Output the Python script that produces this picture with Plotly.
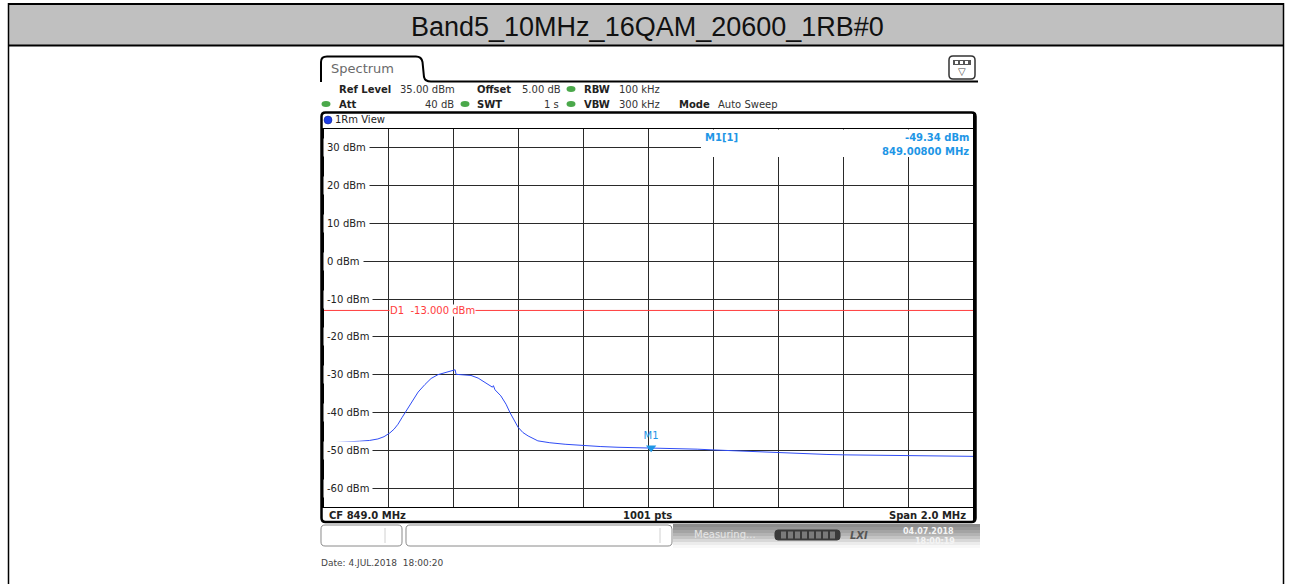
import plotly.graph_objects as go

# ---------------- data ----------------
TITLE = "Band5_10MHz_16QAM_20600_1RB#0"

FREQ_MHZ = [848.000, 848.030, 848.060, 848.083, 848.110, 848.140, 848.166, 848.185,
            848.203, 848.216, 848.228, 848.240, 848.253, 848.271, 848.290, 848.311,
            848.330, 848.351, 848.373, 848.394, 848.401, 848.404, 848.407, 848.425,
            848.453, 848.475, 848.496, 848.512, 848.519, 848.522, 848.527, 848.545,
            848.561, 848.573, 848.586, 848.598, 848.613, 848.629, 848.659, 848.696,
            848.743, 848.804, 848.851, 848.906, 848.974, 849.008, 849.050, 849.097,
            849.150, 849.199, 849.250, 849.297, 849.350, 849.399, 849.450, 849.498,
            849.550, 849.599, 849.650, 849.698, 849.750, 849.800, 849.850, 849.898,
            849.950, 850.000]
LEVEL_DBM = [-48.1, -48.0, -47.9, -47.8, -47.6, -47.4, -47.0, -46.4,
             -45.4, -44.4, -43.1, -41.4, -39.6, -37.0, -34.6, -32.6,
             -31.0, -30.0, -29.4, -29.0, -28.8, -28.7, -29.9, -30.0,
             -30.2, -30.9, -32.1, -32.9, -33.3, -32.9, -34.0, -35.6,
             -37.8, -40.0, -42.2, -43.9, -45.3, -46.2, -47.5, -48.0,
             -48.4, -48.8, -49.0, -49.2, -49.3, -49.34, -49.45, -49.6,
             -49.7, -49.9, -50.1, -50.3, -50.5, -50.7, -50.85, -51.0,
             -51.1, -51.2, -51.25, -51.3, -51.35, -51.4, -51.45, -51.5,
             -51.55, -51.6]

X_RANGE = [848.0, 850.0]
X_GRID = [848.2, 848.4, 848.6, 848.8, 849.0, 849.2, 849.4, 849.6, 849.8]
Y_RANGE = [-65, 35]
Y_TICKS = [30, 20, 10, 0, -10, -20, -30, -40, -50, -60]
Y_TICK_LABELS = [f"{v} dBm" for v in Y_TICKS]

D1_LEVEL = -13.0
D1_LABEL = "D1  -13.000 dBm"
M1_FREQ = 849.008
M1_LEVEL = -49.34
M1_INFO = ["M1[1]", "-49.34 dBm", "849.00800 MHz"]

CF_LABEL = "CF 849.0 MHz"
PTS_LABEL = "1001 pts"
SPAN_LABEL = "Span 2.0 MHz"
DATE_LABEL = "Date: 4.JUL.2018  18:00:20"

# ---------------- layout helpers (pixel -> paper) ----------------
W, H = 1292, 584


def X(px):
    return px / W


def Y(py):
    return 1 - py / H


shapes = []
annotations = []


def rect(x0, y0, x1, y1, fill=None, line=None, lw=0, layer="above"):
    shapes.append(dict(type="rect", xref="paper", yref="paper",
                       x0=X(x0), x1=X(x1), y0=Y(y1), y1=Y(y0),
                       fillcolor=fill if fill else "rgba(0,0,0,0)",
                       line=dict(color=line if line else "rgba(0,0,0,0)", width=lw),
                       layer=layer))


def hline(x0, x1, y, color="black", lw=1):
    shapes.append(dict(type="line", xref="paper", yref="paper",
                       x0=X(x0), x1=X(x1), y0=Y(y), y1=Y(y),
                       line=dict(color=color, width=lw), layer="above"))


def vline(x, y0, y1, color="black", lw=1):
    shapes.append(dict(type="line", xref="paper", yref="paper",
                       x0=X(x), x1=X(x), y0=Y(y0), y1=Y(y1),
                       line=dict(color=color, width=lw), layer="above"))


def circle(cx, cy, rx, ry, fill, line=None, lw=0):
    shapes.append(dict(type="circle", xref="paper", yref="paper",
                       x0=X(cx - rx), x1=X(cx + rx), y0=Y(cy + ry), y1=Y(cy - ry),
                       fillcolor=fill,
                       line=dict(color=line if line else "rgba(0,0,0,0)", width=lw),
                       layer="above"))


def path(cmds, color="black", lw=1, fill=None):
    parts = []
    for c, pts in cmds:
        conv = []
        for i in range(0, len(pts), 2):
            conv.append(f"{X(pts[i]):.6f},{Y(pts[i + 1]):.6f}")
        parts.append(c + " " + " ".join(conv))
    shapes.append(dict(type="path", xref="paper", yref="paper", path=" ".join(parts),
                       fillcolor=fill if fill else "rgba(0,0,0,0)",
                       line=dict(color=color, width=lw), layer="above"))


def text(t, px, py, xanchor="left", size=10, color="#222222", family="DejaVu Sans",
         bg=None, pad=1):
    annotations.append(dict(text=t, x=X(px), y=Y(py), xref="paper", yref="paper",
                            xanchor=xanchor, yanchor="middle", showarrow=False,
                            font=dict(family=family, size=size, color=color),
                            bgcolor=bg if bg else "rgba(0,0,0,0)", borderpad=pad))


def rounded_rect(x0, y0, x1, y1, r, color="black", lw=1, fill=None):
    path([("M", [x0 + r, y0]), ("L", [x1 - r, y0]), ("Q", [x1, y0, x1, y0 + r]),
          ("L", [x1, y1 - r]), ("Q", [x1, y1, x1 - r, y1]), ("L", [x0 + r, y1]),
          ("Q", [x0, y1, x0, y1 - r]), ("L", [x0, y0 + r]), ("Q", [x0, y0, x0 + r, y0]),
          ("Z", [])], color=color, lw=lw, fill=fill)


# ---------------- outer table cell ----------------
rect(8, 4, 1284, 45, fill="#c0c0c0", layer="below")
hline(8, 1284, 4, lw=2)
hline(8, 1284, 45.5, lw=2)
vline(8.5, 3, 584, lw=1.5)
vline(1283.5, 3, 584, lw=1.5)
text(TITLE, 647, 27, xanchor="center", size=27, color="#111111",
     family="Liberation Sans")

# ---------------- Spectrum tab + header ----------------
path([("M", [321, 82]), ("L", [321, 62]), ("Q", [321, 56.5, 327, 56.5]),
      ("L", [416, 56.5]), ("Q", [421.5, 56.5, 422.5, 62]), ("L", [424, 77]),
      ("Q", [425, 81.5, 431, 81.5]), ("L", [978, 81.5])], lw=2)
text("Spectrum", 329, 69, size=13, color="#6a6a6a")

# top right icon
rounded_rect(949, 56, 975, 79, 4, color="#333333", lw=1.5, fill="white")
rect(953, 60, 971, 65, fill="#555555")
for sx in (955, 960, 965):
    rect(sx, 61, sx + 3, 64, fill="white")
text("▽", 962, 71.5, xanchor="center", size=10, color="#444444")

GREEN = "#4aa84a"
text("<b>Ref Level</b>", 337, 89)
text("35.00 dBm", 398, 89, color="#333333")
text("<b>Offset</b>", 475, 89)
text("5.00 dB", 520, 89, color="#333333")
circle(571, 89, 4.5, 3, GREEN)
text("<b>RBW</b>", 582, 89)
text("100 kHz", 617, 89, color="#333333")

circle(326, 104, 4.5, 3, GREEN)
text("<b>Att</b>", 337, 104)
text("40 dB", 456, 104, xanchor="right", color="#333333")
circle(465, 104, 4.5, 3, GREEN)
text("<b>SWT</b>", 475, 104)
text("1 s", 561, 104, xanchor="right", color="#333333")
circle(571, 104, 4.5, 3, GREEN)
text("<b>VBW</b>", 582, 104)
text("300 kHz", 617, 104, color="#333333")
text("<b>Mode</b>", 677, 104)
text("Auto Sweep", 716, 104, color="#333333")

# ---------------- diagram frame ----------------
rounded_rect(321.5, 112.5, 975.5, 522, 4, lw=2.5)
hline(321, 976, 128.5, lw=1)
hline(321, 976, 507.5, lw=1)
circle(328, 120, 4, 4, "#1d3ee8", line="#0a1a80", lw=0.5)
text("1Rm View", 333, 120)

# marker info box mask (grid interrupted there)
rect(701, 129.5, 975, 157, fill="white")
text("<b>" + M1_INFO[0] + "</b>", 703, 137, color="#1e96e6")
text("<b>" + M1_INFO[1] + "</b>", 971, 137, xanchor="right", color="#1e96e6")
text("<b>" + M1_INFO[2] + "</b>", 971, 151, xanchor="right", color="#1e96e6")

# bottom bar
text("<b>" + CF_LABEL + "</b>", 327, 515)
text("<b>" + PTS_LABEL + "</b>", 647, 515, xanchor="center")
text("<b>" + SPAN_LABEL + "</b>", 968, 515, xanchor="right")

# ---------------- status bar ----------------
rounded_rect(321, 525, 402, 546, 4, color="#8a8a8a", lw=1, fill="white")
vline(385, 528, 543, color="#d0d0d0")
rounded_rect(406, 525, 672, 546, 4, color="#8a8a8a", lw=1, fill="white")
vline(660, 528, 543, color="#d0d0d0")
bands = ["#8c8c8c", "#979797", "#a4a4a4", "#b3b3b3", "#c4c4c4", "#d8d8d8", "#ececec", "#f8f8f8"]
for i, c in enumerate(bands):
    rect(673, 524 + i * 3, 980, 527 + i * 3, fill=c)
text("Measuring...", 692, 534, size=10, color="#e6e6e6")
rounded_rect(775, 530, 840, 540, 3, color="#3a3a3a", lw=1, fill="#3a3a3a")
for sx in range(781, 834, 7):
    rect(sx, 531.5, sx + 5, 538.5, fill="#7a7a7a")
text("<i><b>LXI</b></i>", 848, 535, size=10, color="#555555")
text("<b>04.07.2018</b>", 928, 531, xanchor="center", size=8, color="#f4f4f4")
text("<b>18:00:19</b>", 935, 541, xanchor="center", size=8, color="#f4f4f4")

text(DATE_LABEL, 319, 563, size=9, color="#444444")

# ---------------- y labels, D1 line label ----------------
for v, lab in zip(Y_TICKS, Y_TICK_LABELS):
    annotations.append(dict(text=lab, x=X(323), y=v, xref="paper", yref="y",
                            xanchor="left", yanchor="middle", showarrow=False,
                            font=dict(family="DejaVu Sans", size=10, color="#222222"),
                            bgcolor="white", borderpad=3))

shapes.append(dict(type="line", xref="x", yref="y", x0=X_RANGE[0], x1=X_RANGE[1],
                   y0=D1_LEVEL, y1=D1_LEVEL, line=dict(color="#ff3c3c", width=1),
                   layer="above"))
annotations.append(dict(text=D1_LABEL, x=X(389), y=D1_LEVEL, xref="paper", yref="y",
                        xanchor="left", yanchor="middle", showarrow=False,
                        font=dict(family="DejaVu Sans", size=10, color="#ff3c3c"),
                        bgcolor="white", borderpad=0))

# left/right thick borders of the plot area
vline(322.5, 128, 508, lw=3)
vline(974.5, 113, 521, lw=3)

# ---------------- figure ----------------
fig = go.Figure()
fig.add_trace(go.Scatter(x=FREQ_MHZ, y=LEVEL_DBM, mode="lines",
                         line=dict(color="#2f4cf5", width=1), hoverinfo="skip"))
fig.add_trace(go.Scatter(x=[M1_FREQ], y=[M1_LEVEL], mode="markers+text",
                         marker=dict(symbol="triangle-down", size=9, color="#1e96e6"),
                         text=["M1"], textposition="top center",
                         textfont=dict(family="DejaVu Sans", size=10, color="#1e96e6"),
                         hoverinfo="skip"))

fig.update_layout(
    width=W, height=H, margin=dict(l=0, r=0, t=0, b=0),
    paper_bgcolor="white", plot_bgcolor="white", showlegend=False,
    xaxis=dict(domain=[X(324), X(973)], range=X_RANGE, tickvals=X_GRID,
               showticklabels=False, ticks="", showgrid=True, gridcolor="#2a2a2a",
               gridwidth=1, zeroline=False, showline=False, fixedrange=True),
    yaxis=dict(domain=[Y(507), Y(129)], range=Y_RANGE, tickvals=Y_TICKS,
               showticklabels=False, ticks="", showgrid=True, gridcolor="#2a2a2a",
               gridwidth=1, zeroline=False, showline=False, fixedrange=True),
    shapes=shapes, annotations=annotations,
)

fig.write_html("out.html", config={"displayModeBar": False},
               post_script="document.body.style.margin='0px';document.body.style.overflow='hidden';")
